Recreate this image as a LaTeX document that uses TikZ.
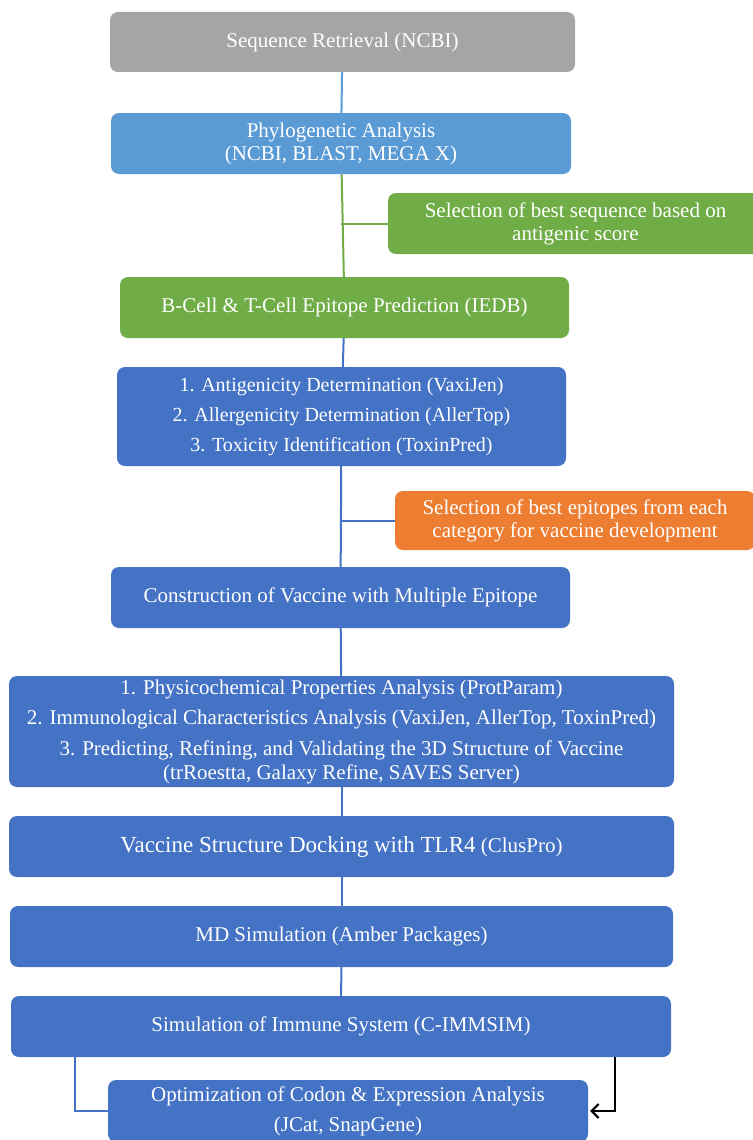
\documentclass[tikz,border=0pt]{standalone}
\usepackage{fontspec}
\setmainfont{Liberation Serif}
\usetikzlibrary{positioning,arrows.meta}
\definecolor{cgray}{RGB}{165,165,165}
\definecolor{clblue}{RGB}{91,155,213}
\definecolor{cgreen}{RGB}{112,173,71}
\definecolor{cblue}{RGB}{68,114,196}
\definecolor{corange}{RGB}{237,125,49}

\begin{document}
\begin{tikzpicture}[
    x=1pt, y=-1pt,
    >={Straight Barb[length=7pt,width=14pt]},
    box/.style={rounded corners=8pt, text=white, align=center, inner sep=0pt,
                minimum height=61pt, font=\fontsize{21}{23}\selectfont},
    link/.style={line width=2pt, color=cblue},
  ]
  \useasboundingbox (0,0) rectangle (752,1140);

  %% Main column
  \node[box, fill=cgray, minimum width=465pt, minimum height=60pt] (seq) at (342.5, 42)
    {Sequence Retrieval (NCBI)};
  \node[box, fill=clblue, minimum width=460pt] (phylo) at (341, 143.5)
    {Phylogenetic Analysis\\(NCBI, BLAST, MEGA X)};
  \node[box, fill=cgreen, minimum width=449pt] (bcell) at (344.5, 307.5)
    {B-Cell \& T-Cell Epitope Prediction (IEDB)};
  \node[box, fill=cblue, minimum width=449pt, minimum height=99pt,
        font=\fontsize{20}{23}\selectfont] (tests) at (341.5, 416.5)
    {1. Antigenicity Determination (VaxiJen)\\[7pt]
     2. Allergenicity Determination (AllerTop)\\[7pt]
     3. Toxicity Identification (ToxinPred)};
  \node[box, fill=cblue, minimum width=459pt] (construct) at (340.5, 597.5)
    {Construction of Vaccine with Multiple Epitope};
  \node[box, fill=cblue, minimum width=665pt, minimum height=111pt] (physico) at (341.5, 731.5)
    {1. Physicochemical Properties Analysis (ProtParam)\\[7pt]
     2. Immunological Characteristics Analysis (VaxiJen, AllerTop, ToxinPred)\\[8pt]
     3. Predicting, Refining, and Validating the 3D Structure of Vaccine\\[1pt]
     (trRoestta, Galaxy Refine, SAVES Server)};
  \node[box, fill=cblue, minimum width=665pt] (dock) at (341.5, 846.5)
    {{\fontsize{23}{23}\selectfont Vaccine Structure Docking with TLR4} (ClusPro)};
  \node[box, fill=cblue, minimum width=663pt] (md) at (341.5, 936.5)
    {MD Simulation (Amber Packages)};
  \node[box, fill=cblue, minimum width=660pt] (immune) at (341, 1026.5)
    {Simulation of Immune System (C-IMMSIM)};
  \node[box, fill=cblue, minimum width=480pt, minimum height=62pt] (codon) at (348, 1111)
    {Optimization of Codon \& Expression Analysis\\[7pt](JCat, SnapGene)};

  %% Side boxes
  \node[box, fill=cgreen, minimum width=375pt] (selseq) at (575.5, 223.5)
    {Selection of best sequence based on\\antigenic score};
  \node[box, fill=corange, minimum width=360pt, minimum height=59pt] (selepi) at (575, 520.5)
    {Selection of best epitopes from each\\category for vaccine development};

  %% Connectors
  \draw[link, color=clblue] (seq) -- (phylo);
  \draw[link, color=cgreen] (phylo) -- (bcell);
  \draw[link, color=cgreen] (phylo.south |- selseq.west) -- (selseq.west);
  \draw[link] (bcell) -- (tests);
  \draw[link] (tests) -- (construct);
  \draw[link] (tests.south |- selepi.west) -- (selepi.west);
  \draw[link] (construct) -- (physico);
  \draw[link] (physico) -- (dock);
  \draw[link] (dock) -- (md);
  \draw[link] (md) -- (immune);
  \draw[link] ([xshift=64pt]immune.south west) |- (codon.west);
  \draw[->, line width=2pt] ([xshift=-56pt]immune.south east) |- ([xshift=2pt]codon.east);

\end{tikzpicture}
\end{document}
